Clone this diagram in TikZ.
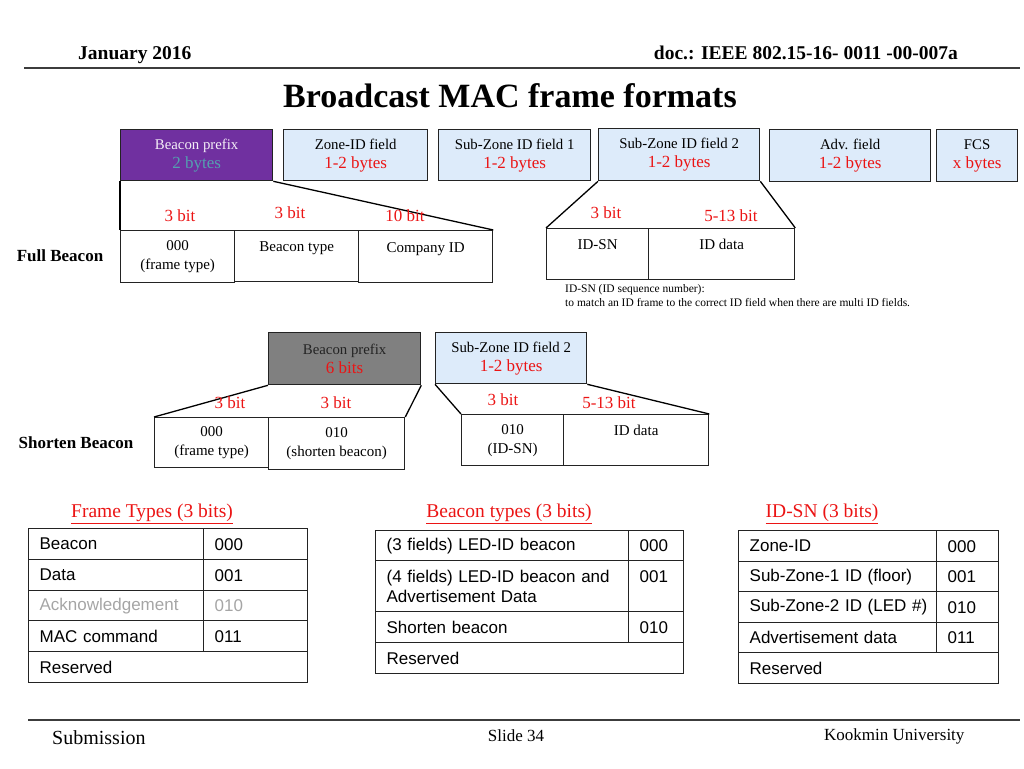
\documentclass[tikz,border=0pt]{standalone}
\usepackage{fontspec}
\setmainfont{Liberation Serif}
\setsansfont{Liberation Sans}
\definecolor{purp}{RGB}{112,48,160}
\definecolor{lblue}{RGB}{221,235,250}
\definecolor{tealx}{RGB}{84,160,176}
\definecolor{gfill}{RGB}{128,128,128}
\definecolor{redx}{RGB}{235,20,20}
\definecolor{ln}{RGB}{35,35,35}
\definecolor{rule}{RGB}{60,60,60}
\definecolor{ackgray}{RGB}{165,165,165}
\newcommand\fld[2]{#1\\{\fontsize{17}{19}\selectfont\color{redx}#2}}
\newcommand\tc[6]{\pgfmathsetmacro\tcw{#4-22}\node[tcell, minimum width=#4pt, minimum height=#5pt, text width=\tcw pt] (#1) at (#2,#3) {#6};}
\tikzset{
  box/.style={draw=ln, line width=1.3pt, anchor=north west, inner sep=0pt, align=center, fill=white, font=\fontsize{15}{19}\selectfont},
  topbox/.style={box, fill=lblue, font=\fontsize{14.8}{19}\selectfont},
  bits/.style={text=redx, font=\fontsize{17}{20}\selectfont, inner sep=0pt},
  rowlabel/.style={font=\bfseries\fontsize{17}{20}\selectfont, inner sep=0pt},
  tcell/.style={draw=ln, line width=1.3pt, anchor=north west, inner xsep=11pt, inner ysep=0pt, align=left, font=\sffamily\fontsize{17}{20}\selectfont},
  ttitle/.style={text=redx, font=\fontsize{19.5}{22}\selectfont, inner sep=0pt},
  zoomline/.style={draw=black, line width=1.3pt},
}
\begin{document}
\begin{tikzpicture}[x=1pt,y=-1pt]
\useasboundingbox (0,0) rectangle (1024,768);
% header
\node[anchor=west, inner sep=0pt, font=\bfseries\fontsize{19.5}{22}\selectfont] (date) at (78,55) {January 2016};
\node[anchor=east, inner sep=0pt, font=\bfseries\fontsize{19.5}{22}\selectfont] (doc) at (958,53) {doc.: IEEE 802.15-16- 0011 -00-007a};
\coordinate (hl) at (24,68); \coordinate (hr) at (1020,68);
\draw[rule, line width=2pt] (hl) -- (hr);
\node[inner sep=0pt, font=\bfseries\fontsize{34}{38}\selectfont] (title) at (510,96) {Broadcast MAC frame formats};

% top row
\node[box, fill=purp, minimum width=152pt, minimum height=51pt, font=\fontsize{14.8}{19}\selectfont] (bp) at (120,129)
  {{\color{white!92!purp}Beacon prefix}\\{\fontsize{17}{19}\selectfont\color{tealx}2 bytes}};
\node[topbox, minimum width=144pt, minimum height=51pt] (zid) at (283,129) {\fld{Zone-ID field}{1-2 bytes}};
\node[topbox, minimum width=152pt, minimum height=51pt] (sz1) at (438,129) {\fld{Sub-Zone ID field 1}{1-2 bytes}};
\node[topbox, minimum width=161pt, minimum height=52pt] (sz2) at (598,128) {\fld{Sub-Zone ID field 2}{1-2 bytes}};
\node[topbox, minimum width=161pt, minimum height=52pt] (adv) at (769,129) {\fld{Adv. field}{1-2 bytes}};
\node[topbox, minimum width=81pt, minimum height=52pt] (fcs) at (936,129) {\fld{FCS}{x bytes}};

% full beacon
\node[box, minimum width=114pt, minimum height=52pt] (ft) at (120,230) {000\\(frame type)};
\node[box, minimum width=124pt, minimum height=51pt] (bt) at (234,230) {Beacon type\\\mbox{}};
\node[box, minimum width=134pt, minimum height=52pt] (cid) at (358,230) {Company ID\\\mbox{}};
\node[box, minimum width=102pt, minimum height=51pt] (idsn) at (546,228) {ID-SN\\\mbox{}};
\node[box, minimum width=146pt, minimum height=51pt] (idd) at (648,228) {ID data\\\mbox{}};
\draw[zoomline] (bp.south west) -- (ft.north west);
\draw[zoomline] (bp.south east) -- (cid.north east);
\draw[zoomline] (sz2.south west) -- (idsn.north west);
\draw[zoomline] (sz2.south east) -- (idd.north east);
\node[bits] (b1) at (180,216) {3 bit};
\node[bits] (b2) at (290,213) {3 bit};
\node[bits] (b3) at (405,216) {10 bit};
\node[bits] (b4) at (606,213) {3 bit};
\node[bits] (b5) at (731,216) {5-13 bit};
\node[rowlabel] (full) at (60,256) {Full Beacon};
\node[anchor=north west, inner sep=0pt, align=left, font=\fontsize{11.5}{14}\selectfont] (note) at (565,284)
  {ID-SN (ID sequence number):\\to match an ID frame to the correct ID field when there are multi ID fields.};

% shorten beacon
\node[box, fill=gfill, minimum width=152pt, minimum height=52pt, font=\fontsize{14.8}{19}\selectfont] (bp2) at (268,332)
  {{\color{ln}Beacon prefix}\\{\fontsize{17}{19}\selectfont\color{redx}6 bits}};
\node[topbox, minimum width=151pt, minimum height=51pt] (sz2b) at (435,332) {\fld{Sub-Zone ID field 2}{1-2 bytes}};
\node[box, minimum width=114pt, minimum height=50pt] (sft) at (154,417) {000\\(frame type)};
\node[box, minimum width=136pt, minimum height=52pt] (ssb) at (268,417) {010\\(shorten beacon)};
\node[box, minimum width=102pt, minimum height=51pt] (sidsn) at (461,414) {010\\(ID-SN)};
\node[box, minimum width=145pt, minimum height=51pt] (sidd) at (563,414) {ID data\\\mbox{}};
\draw[zoomline] (bp2.south west) -- (sft.north west);
\draw[zoomline] (bp2.south east) -- (ssb.north east);
\draw[zoomline] (sz2b.south west) -- (sidsn.north west);
\draw[zoomline] (sz2b.south east) -- (sidd.north east);
\node[bits] (c1) at (230,403) {3 bit};
\node[bits] (c2) at (336,403) {3 bit};
\node[bits] (c3) at (503,400) {3 bit};
\node[bits] (c4) at (609,403) {5-13 bit};
\node[rowlabel] (short) at (76,443) {Shorten Beacon};

% table titles
\node[ttitle] (t1) at (152,514) {\underline{Frame Types (3 bits)}};
\node[ttitle] (t2) at (509,514) {\underline{Beacon types (3 bits)}};
\node[ttitle] (t3) at (822,514) {\underline{ID-SN (3 bits)}};

% Frame types table
\tc{fa1}{28}{528}{175}{31}{Beacon}
\tc{fb1}{203}{528}{104}{31}{000}
\tc{fa2}{28}{559}{175}{31}{Data}
\tc{fb2}{203}{559}{104}{31}{001}
\tc{fa3}{28}{590}{175}{30}{\color{ackgray}Acknowledgement}
\tc{fb3}{203}{590}{104}{30}{\color{ackgray}010}
\tc{fa4}{28}{620}{175}{31}{MAC command}
\tc{fb4}{203}{620}{104}{31}{011}
\tc{fa5}{28}{651}{279}{31}{Reserved}

% Beacon types table
\tc{ba1}{375}{530}{253}{30}{(3 fields) LED-ID beacon}
\tc{bb1}{628}{530}{55}{30}{000}
\tc{ba2}{375}{560}{253}{51}{(4 fields) LED-ID beacon and\\Advertisement Data}
\tc{bb2}{628}{560}{55}{51}{001\\\mbox{}}
\tc{ba3}{375}{611}{253}{31}{Shorten beacon}
\tc{bb3}{628}{611}{55}{31}{010}
\tc{ba4}{375}{642}{308}{31}{Reserved}

% ID-SN table
\tc{ia1}{738}{530}{198}{31}{Zone-ID}
\tc{ib1}{936}{530}{62}{31}{000}
\tc{ia2}{738}{561}{198}{30}{Sub-Zone-1 ID (floor)}
\tc{ib2}{936}{561}{62}{30}{001}
\tc{ia3}{738}{591}{198}{31}{\makebox[0pt][l]{Sub-Zone-2 ID (LED \#)}}
\tc{ib3}{936}{591}{62}{31}{010}
\tc{ia4}{738}{622}{198}{30}{Advertisement data}
\tc{ib4}{936}{622}{62}{30}{011}
\tc{ia5}{738}{652}{260}{31}{Reserved}

% footer
\coordinate (fl) at (28,720); \coordinate (fr) at (1020,720);
\draw[rule, line width=2.2pt] (fl) -- (fr);
\node[anchor=west, inner sep=0pt, font=\fontsize{20}{22}\selectfont] (sub) at (52,738) {Submission};
\node[inner sep=0pt, font=\fontsize{17}{20}\selectfont] (slide) at (516,736) {Slide 34};
\node[anchor=west, inner sep=0pt, font=\fontsize{17}{20}\selectfont] (kook) at (824,736) {Kookmin University};
\end{tikzpicture}
\end{document}
